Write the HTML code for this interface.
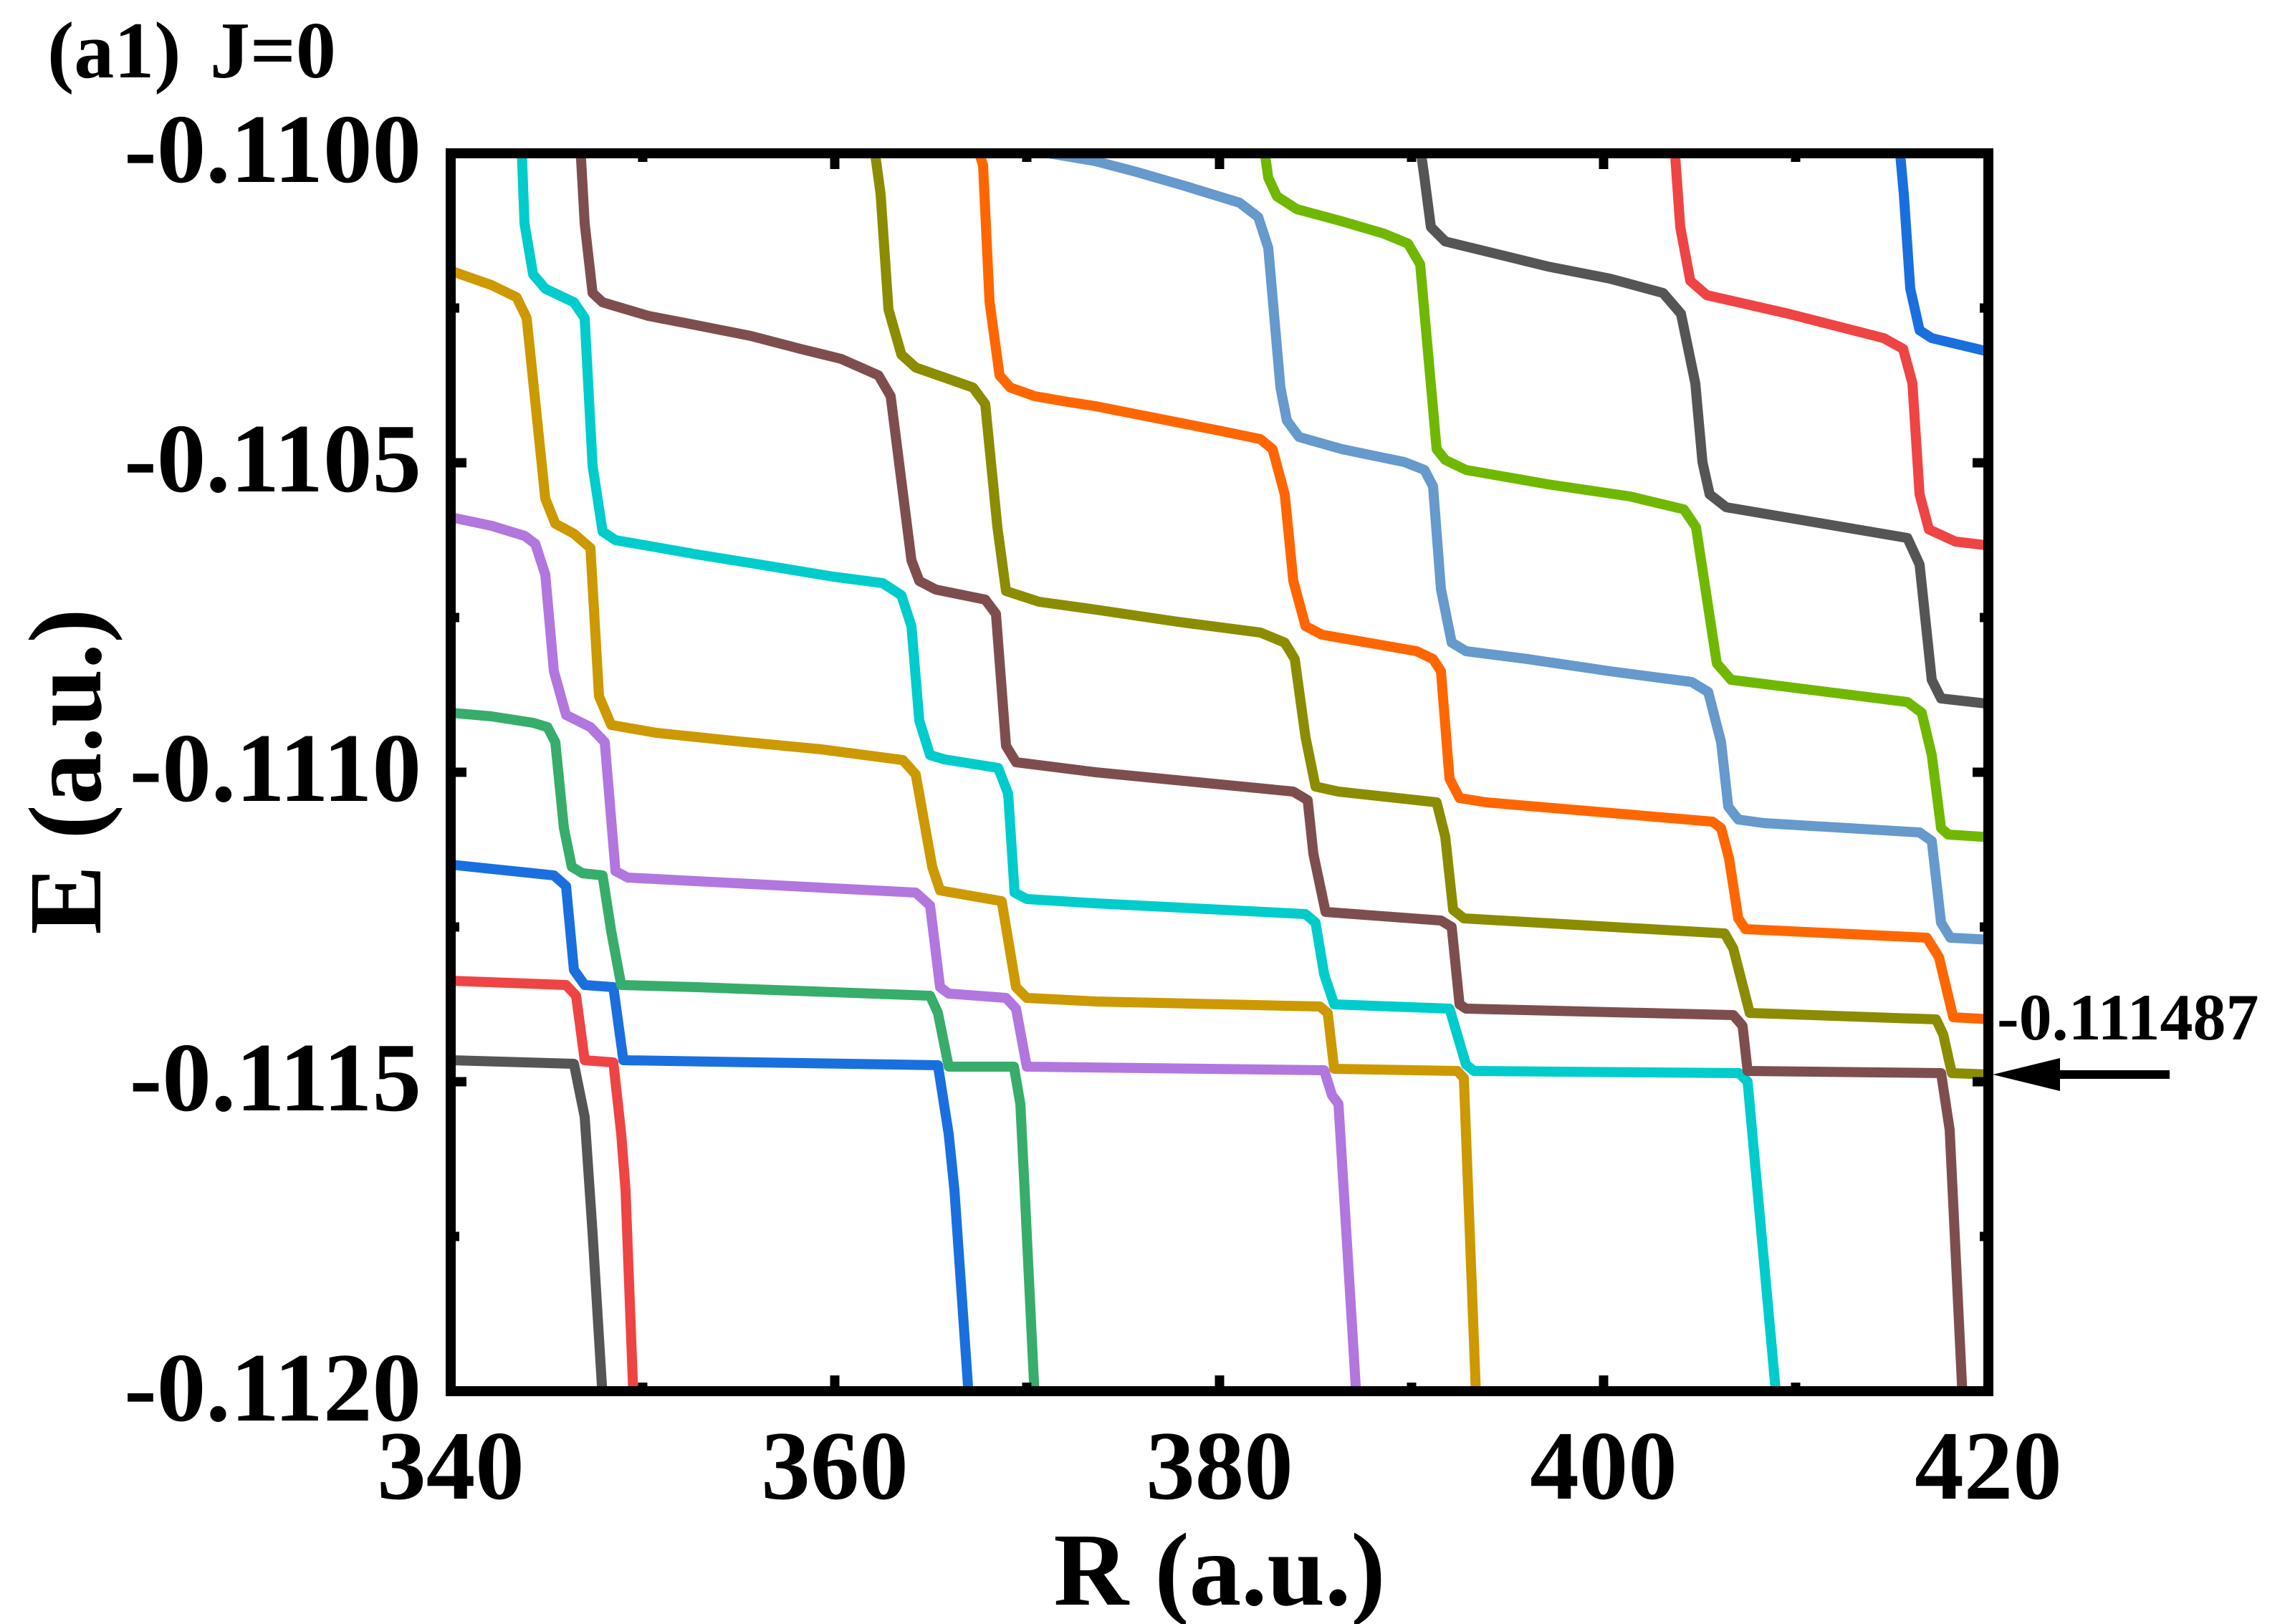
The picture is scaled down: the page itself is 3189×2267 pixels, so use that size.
<!DOCTYPE html>
<html><head><meta charset="utf-8"><style>
html,body{margin:0;padding:0;background:#fff;}
svg{display:block;}
text{font-family:"Liberation Serif","Times New Roman",serif;font-weight:bold;fill:#000;}
</style></head><body>
<svg width="3189" height="2267" viewBox="0 0 3189 2267" xmlns="http://www.w3.org/2000/svg">
<rect width="3189" height="2267" fill="#fff"/>
<defs><clipPath id="c"><rect x="629" y="214" width="2146" height="1728"/></clipPath></defs>
<g clip-path="url(#c)" fill="none" stroke-width="14" stroke-linejoin="round" stroke-linecap="butt">
<polyline stroke="#555555" points="629,1480 801,1485 816,1559 827,1721 841,1950"/>
<polyline stroke="#ee4444" points="629,1369 790,1375 804,1390 816,1480 856,1483 867,1583 873,1661 884,1950"/>
<polyline stroke="#1a6fdf" points="629,1207 773,1222 790,1237 801,1354 816,1375 856,1378 870,1480 1309,1487 1324,1583 1332,1661 1352,1950"/>
<polyline stroke="#37ad6b" points="629,995 686,1000 744,1009 764,1015 775,1036 787,1156 798,1210 813,1219 841,1222 853,1300 867,1375 973,1378 1298,1390 1309,1414 1324,1489 1415,1489 1424,1541 1430,1661 1444,1950"/>
<polyline stroke="#b177de" points="629,722 686,734 732,748 747,759 761,802 773,937 790,998 824,1015 844,1036 859,1216 876,1225 1278,1246 1298,1264 1312,1378 1324,1387 1404,1393 1418,1408 1433,1489 1848,1494 1859,1529 1868,1541 1893,1950"/>
<polyline stroke="#cc9900" points="629,378 686,398 721,415 735,444 761,696 775,731 801,745 824,765 836,972 853,1012 916,1023 1031,1035 1146,1046 1260,1061 1278,1081 1301,1210 1312,1243 1398,1258 1418,1378 1433,1393 1529,1398 1842,1405 1853,1414 1862,1492 2034,1495 2043,1505 2060,1950"/>
<polyline stroke="#00cccc" points="728,205 732,312 744,383 761,403 801,422 816,444 827,650 841,742 859,754 905,762 973,774 1060,788 1163,805 1232,814 1258,831 1272,874 1283,1006 1298,1054 1318,1060 1393,1072 1407,1108 1416,1246 1433,1255 1529,1261 1822,1276 1836,1288 1848,1360 1862,1402 2023,1408 2046,1486 2057,1495 2427,1498 2439,1510 2479,1950"/>
<polyline stroke="#7e4e4f" points="810,205 816,312 827,409 841,422 905,441 962,452 1048,469 1117,487 1174,501 1226,524 1243,553 1272,782 1283,811 1306,823 1375,837 1390,857 1404,1041 1418,1064 1529,1078 1805,1105 1825,1117 1833,1192 1850,1273 2011,1285 2026,1294 2037,1402 2046,1408 2419,1417 2432,1432 2439,1495 2709,1498 2721,1577 2739,1950"/>
<polyline stroke="#8c8c00" points="1220,205 1229,271 1240,432 1258,495 1278,513 1358,541 1375,564 1392,736 1404,825 1450,840 1529,851 1644,868 1759,883 1793,897 1807,920 1822,1029 1836,1098 1868,1105 2005,1120 2017,1168 2028,1270 2043,1282 2407,1303 2419,1324 2442,1414 2702,1423 2712,1444 2724,1498 2780,1500"/>
<polyline stroke="#ff6600" points="1364,205 1372,231 1381,421 1395,524 1410,541 1444,553 1490,561 1529,567 1615,584 1701,601 1759,613 1776,627 1793,690 1805,811 1822,874 1845,886 1977,909 2000,920 2011,937 2023,1087 2037,1114 2074,1120 2390,1147 2402,1156 2413,1198 2426,1282 2436,1297 2689,1309 2706,1336 2726,1420 2780,1423"/>
<polyline stroke="#6699cc" points="1440,210 1529,225 1586,240 1655,260 1730,283 1756,303 1770,346 1787,541 1796,587 1813,610 1873,627 1960,645 1988,656 2000,679 2011,822 2026,897 2046,909 2132,920 2247,937 2361,952 2384,966 2402,1036 2412,1126 2426,1144 2462,1149 2679,1162 2696,1174 2709,1288 2722,1309 2780,1312"/>
<polyline stroke="#70b800" points="1764,205 1770,248 1782,274 1810,292 1873,309 1931,326 1965,340 1982,369 2005,627 2017,642 2046,656 2160,676 2275,693 2350,711 2367,736 2396,926 2416,949 2662,980 2682,995 2696,1054 2709,1156 2719,1165 2780,1169"/>
<polyline stroke="#555555" points="1982,205 1988,248 1997,317 2017,337 2103,358 2160,372 2247,389 2321,409 2346,438 2366,535 2376,645 2386,690 2409,708 2662,751 2679,788 2696,949 2709,975 2780,983"/>
<polyline stroke="#ee4444" points="2337,205 2345,317 2359,392 2382,412 2496,438 2629,472 2656,487 2669,535 2679,690 2692,739 2729,756 2780,762"/>
<polyline stroke="#1a6fdf" points="2651,205 2657,271 2666,403 2679,461 2696,472 2780,492"/>
</g>
<g stroke="#000" stroke-width="13" fill="none">
<rect x="629" y="214" width="2146" height="1728" stroke-width="14"/>
<path d="M1165,1942v-22M1702,1942v-22M2238,1942v-22M1165,214v22M1702,214v22M2238,214v22
M897,1942v-12M1433,1942v-12M1970,1942v-12M2506,1942v-12M897,214v12M1433,214v12M1970,214v12M2506,214v12
M629,646h22M629,1078h22M629,1510h22M2775,646h-22M2775,1078h-22M2775,1510h-22
M629,430h12M629,862h12M629,1294h12M629,1726h12M2775,430h-12M2775,862h-12M2775,1294h-12M2775,1726h-12"/>
</g>
<g font-size="137" text-anchor="end">
<text x="588" y="254">-0.1100</text>
<text x="588" y="686">-0.1105</text>
<text x="588" y="1118">-0.1110</text>
<text x="588" y="1550">-0.1115</text>
<text x="588" y="1983">-0.1120</text>
</g>
<g font-size="137" text-anchor="middle">
<text x="629" y="2092">340</text>
<text x="1165" y="2092">360</text>
<text x="1702" y="2092">380</text>
<text x="2238" y="2092">400</text>
<text x="2775" y="2092">420</text>
</g>
<text x="1702" y="2240" font-size="145" text-anchor="middle">R (a.u.)</text>
<text transform="translate(140,1077) rotate(-90)" font-size="145" text-anchor="middle">E (a.u.)</text>
<text x="66" y="108" font-size="112">(a1)</text>
<text x="293" y="108" font-size="112">J=0</text>
<text x="2787" y="1451" font-size="92">-0.111487</text>
<line x1="2860" y1="1500" x2="3028" y2="1500" stroke="#000" stroke-width="12"/>
<polygon points="2781,1500 2875,1477 2875,1523" fill="#000"/>
</svg>
</body></html>
